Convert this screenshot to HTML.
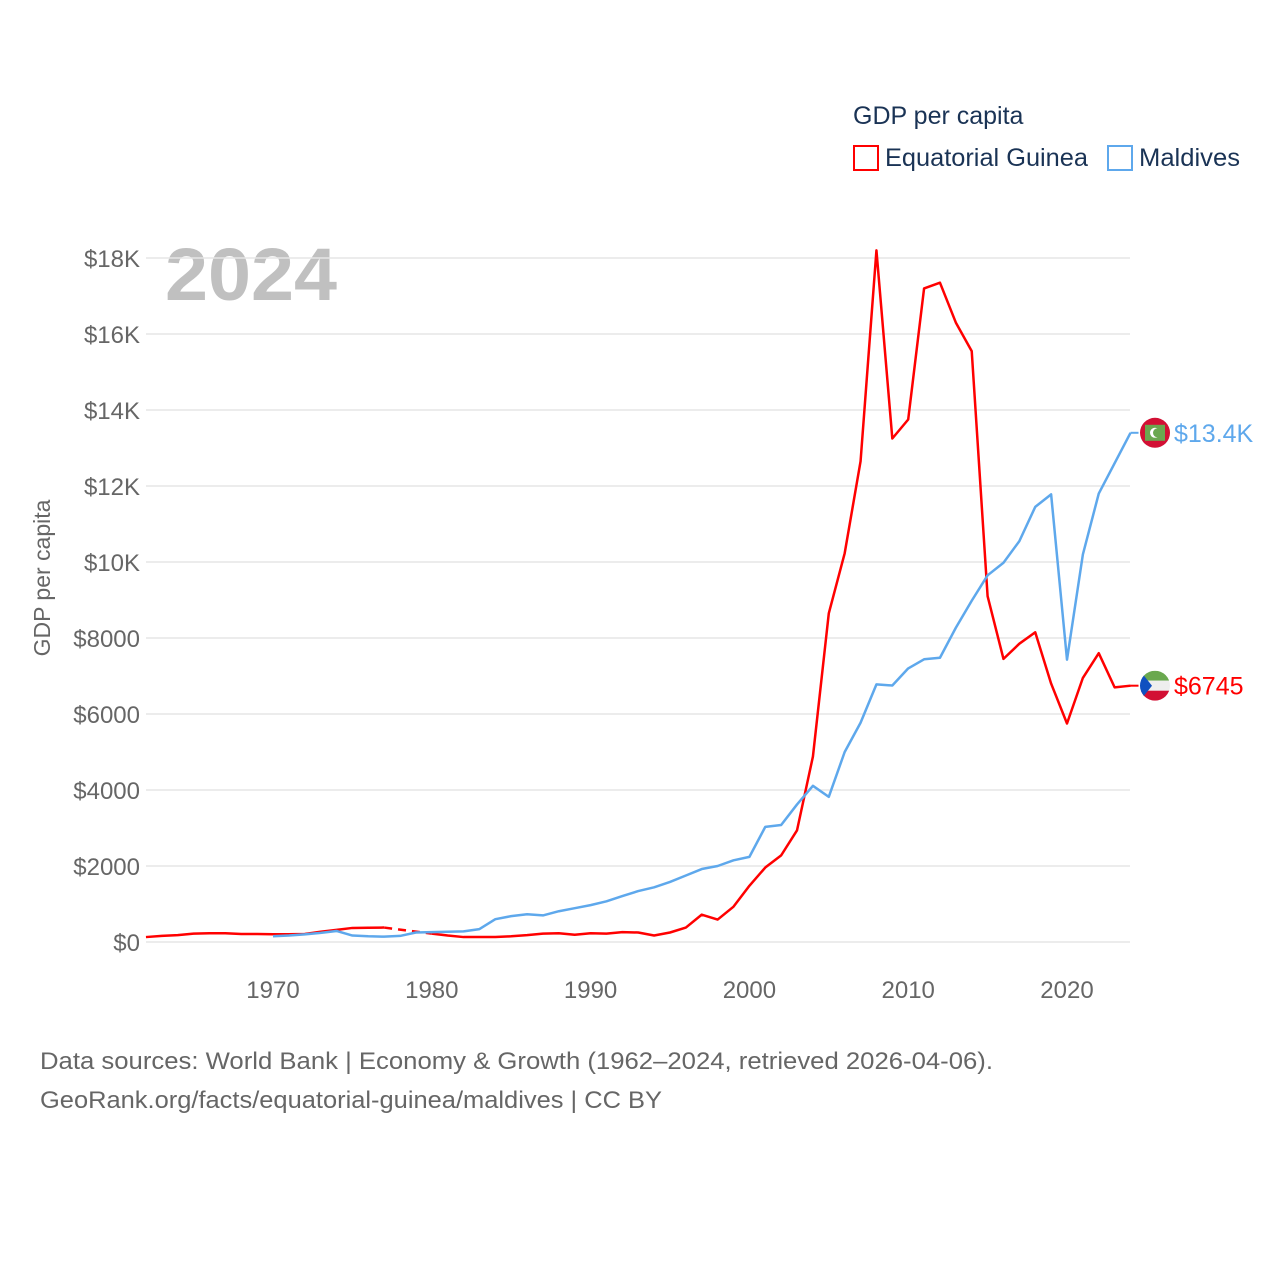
<!DOCTYPE html>
<html><head><meta charset="utf-8"><style>
body{margin:0;background:#fff;font-family:"Liberation Sans",sans-serif;}
svg text{font-family:"Liberation Sans",sans-serif;}
</style></head><body>
<svg id="chart" width="1280" height="1280" xmlns="http://www.w3.org/2000/svg">
<text x="853" y="124" font-size="25" fill="#1a3355">GDP per capita</text>
<rect x="854" y="146" width="24" height="24" fill="none" stroke="#ff0000" stroke-width="2"/>
<text x="885" y="166" font-size="25" fill="#1a3355" textLength="203" lengthAdjust="spacingAndGlyphs">Equatorial Guinea</text>
<rect x="1108" y="146" width="24" height="24" fill="none" stroke="#5ea8ec" stroke-width="2"/>
<text x="1139" y="166" font-size="25" fill="#1a3355" textLength="101" lengthAdjust="spacingAndGlyphs">Maldives</text>
<text x="165" y="300" font-size="74" font-weight="bold" fill="#c0c0c0" textLength="172" lengthAdjust="spacingAndGlyphs">2024</text>
<text transform="translate(50,578) rotate(-90)" text-anchor="middle" font-size="23" fill="#666">GDP per capita</text>
<g id="grid"></g><g id="series"></g>
<text x="40" y="1069" font-size="24" fill="#666" textLength="953" lengthAdjust="spacingAndGlyphs">Data sources: World Bank | Economy &amp; Growth (1962–2024, retrieved 2026-04-06).</text>
<text x="40" y="1108" font-size="24" fill="#666" textLength="622" lengthAdjust="spacingAndGlyphs">GeoRank.org/facts/equatorial-guinea/maldives | CC BY</text>
</svg>
<script>
const yTicks=[0,2000,4000,6000,8000,10000,12000,14000,16000,18000];
const yTickLabels=["$0","$2000","$4000","$6000","$8000","$10K","$12K","$14K","$16K","$18K"];
const xTicks=[1970,1980,1990,2000,2010,2020];
const egYears=[1962,1963,1964,1965,1966,1967,1968,1969,1970,1971,1972,1973,1974,1975,1976,1977,1978,1979,1980,1981,1982,1983,1984,1985,1986,1987,1988,1989,1990,1991,1992,1993,1994,1995,1996,1997,1998,1999,2000,2001,2002,2003,2004,2005,2006,2007,2008,2009,2010,2011,2012,2013,2014,2015,2016,2017,2018,2019,2020,2021,2022,2023,2024];
const egValues=[130,160,180,220,230,230,210,210,205,205,210,270,320,370,375,380,null,null,220,170,130,130,130,150,180,220,230,190,230,220,260,250,170,250,380,720,590,930,1480,1960,2280,2940,4880,8650,10230,12650,18200,13250,13750,17200,17350,16300,15550,9100,7450,7850,8150,6800,5750,6950,7600,6700,6745];
const mvYears=[1970,1971,1972,1973,1974,1975,1976,1977,1978,1979,1980,1981,1982,1983,1984,1985,1986,1987,1988,1989,1990,1991,1992,1993,1994,1995,1996,1997,1998,1999,2000,2001,2002,2003,2004,2005,2006,2007,2008,2009,2010,2011,2012,2013,2014,2015,2016,2017,2018,2019,2020,2021,2022,2023,2024];
const mvValues=[150,170,200,240,290,170,150,140,160,250,260,270,280,340,600,680,730,700,810,890,970,1070,1210,1340,1440,1580,1750,1920,2000,2150,2240,3030,3080,3620,4110,3820,5000,5770,6780,6750,7200,7440,7480,8270,8980,9650,9980,10550,11450,11780,7430,10200,11800,12600,13400];

const NS="http://www.w3.org/2000/svg";
const X=y=>273+(y-1970)*15.88;
const Y=v=>942-v*0.038;
function mk(tag,attrs,parent){const e=document.createElementNS(NS,tag);for(const k in attrs)e.setAttribute(k,attrs[k]);parent.appendChild(e);return e;}
const grid=document.getElementById('grid'),ser=document.getElementById('series');
yTicks.forEach((t,i)=>{
  const l=mk('line',{x1:146,x2:1130,y1:Y(t),y2:Y(t),stroke:'#e6e6e6','stroke-width':1.5},grid);
  
  
  const tx=mk('text',{x:140,y:Y(t)+9,'text-anchor':'end','font-size':24,fill:'#666'},grid);
  tx.textContent=yTickLabels[i];
  
  
});
xTicks.forEach(t=>{
  const tx=mk('text',{x:X(t),y:998,'text-anchor':'middle','font-size':24,fill:'#666'},grid);
  tx.textContent=t;
  
  
});
function drawSeries(years,vals,color,name){
  let segs=[],cur=[];
  years.forEach((yr,i)=>{if(vals[i]==null){if(cur.length)segs.push(cur);cur=[];}else cur.push([X(yr),Y(vals[i])]);});
  if(cur.length)segs.push(cur);
  segs.forEach((s,k)=>{
    const p=mk('polyline',{points:s.map(q=>q.join(',')).join(' '),fill:'none',stroke:color,'stroke-width':2.5,'stroke-linejoin':'round'},ser);
    
    
    if(k>0){const a=segs[k-1][segs[k-1].length-1],b=s[0];
      const d=mk('line',{x1:a[0],y1:a[1],x2:b[0],y2:b[1],stroke:color,'stroke-width':2.5,'stroke-dasharray':'8,6'},ser);
      
      }
  });
  const last=vals[vals.length-1],ly=Y(last),lx=X(years[years.length-1]);
  const c=mk('line',{x1:lx,y1:ly,x2:lx+8,y2:ly,stroke:color,'stroke-width':2},ser);
  
  
  return [lx,ly,last];
}
const eg=drawSeries(egYears,egValues,'#ff0000','equatorial-guinea');
const mv=drawSeries(mvYears,mvValues,'#5ea8ec','maldives');
const fm=mk('g',{},ser);


mk('circle',{cx:1155,cy:mv[1],r:15,fill:'#d21034'},fm);
mk('rect',{x:1145,y:mv[1]-8,width:20,height:16,fill:'#6aa84f'},fm);
mk('circle',{cx:1155,cy:mv[1],r:5,fill:'#fff'},fm);
mk('circle',{cx:1157.5,cy:mv[1],r:4.5,fill:'#6aa84f'},fm);
const fe=mk('g',{},ser);


const cp=mk('clipPath',{id:'egc'},fe);mk('circle',{cx:1155,cy:eg[1],r:15},cp);
const g2=mk('g',{'clip-path':'url(#egc)'},fe);
mk('rect',{x:1140,y:eg[1]-15,width:30,height:10,fill:'#6aa84f'},g2);
mk('rect',{x:1140,y:eg[1]-5,width:30,height:10,fill:'#eee'},g2);
mk('rect',{x:1140,y:eg[1]+5,width:30,height:10,fill:'#d21034'},g2);
mk('polygon',{points:`1140,${eg[1]-15} 1152,${eg[1]} 1140,${eg[1]+15}`,fill:'#1050c0'},g2);
const t1=mk('text',{x:1174,y:mv[1]+9,'font-size':25,fill:'#5ea8ec'},ser);
t1.textContent='$'+(mv[2]/1000).toFixed(1)+'K';


const t2=mk('text',{x:1174,y:eg[1]+9,'font-size':25,fill:'#ff0000'},ser);
t2.textContent='$'+eg[2];


</script>
</body></html>
